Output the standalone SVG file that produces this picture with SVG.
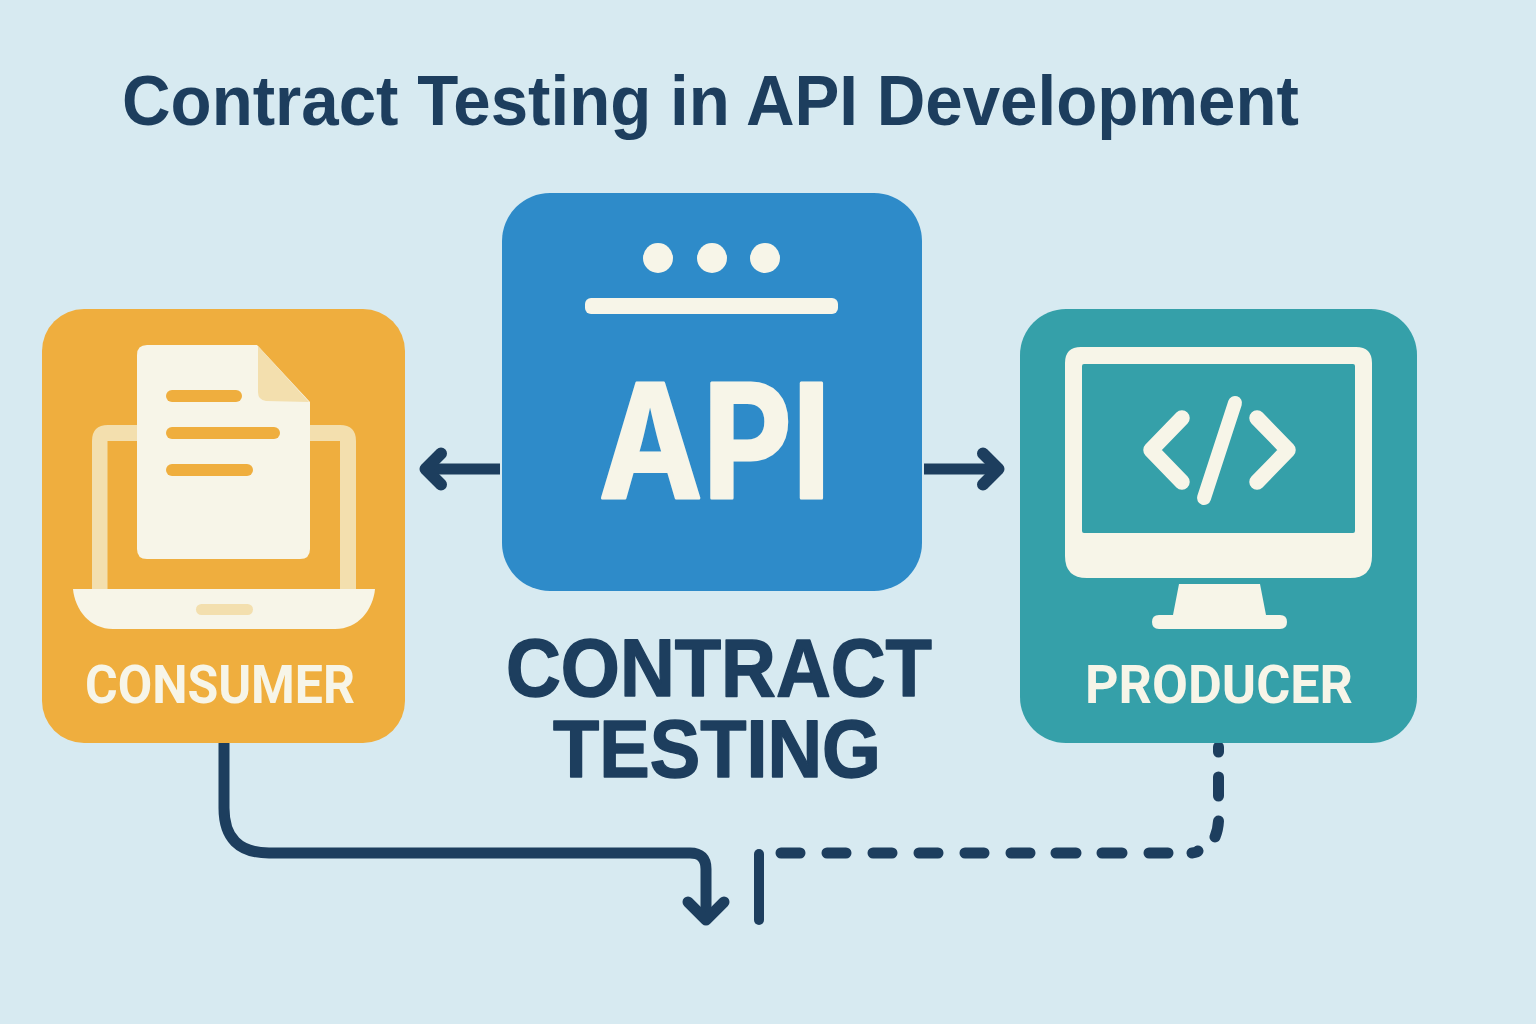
<svg xmlns="http://www.w3.org/2000/svg" width="1536" height="1024" viewBox="0 0 1536 1024">
<style>
.t{font-family:Roboto,"Liberation Sans",sans-serif;font-weight:700}
.h{font-family:"Liberation Sans",Arial,sans-serif;font-weight:700}
.navy{fill:#1d3e5e}
.cream{fill:#f7f5e8}
.big{stroke:#1d3e5e;stroke-width:1.500;stroke-linejoin:round}
.conn{fill:none;stroke:#1d3e5e;stroke-width:11;stroke-linecap:round;stroke-linejoin:round}
.code{fill:none;stroke:#f7f5e8;stroke-width:15.500;stroke-linecap:round;stroke-linejoin:round}
</style>
<rect width="1536" height="1024" fill="#d7eaf1"/>
<text id="title" class="h navy" x="122" y="125" font-size="71" textLength="1177" lengthAdjust="spacingAndGlyphs">Contract Testing in API Development</text>
<g id="connectors">
<path class="conn" d="M224 743V808Q224 853 269 853H690Q706 853 706 869V918"/>
<path class="conn" d="M688 902L706 920L724 902"/>
<path class="conn" d="M759 854V920" style="stroke-width:10"/>
<path class="conn" d="M781 853H800M827 853H846M873 853H892M919 853H938M965 853H984M1011 853H1030M1056 853H1076M1102 853H1122M1149 853H1168M1192 853Q1197 852.500 1198 851M1218.500 747V752M1218.500 777V796M1218.500 821Q1218 830 1215 837"/>
<path class="conn" d="M500 469H428" style="stroke-linecap:butt"/>
<path class="conn" d="M441 453.500L425.500 469L441 484.500" style="stroke-width:12"/>
<path class="conn" d="M924 469H996" style="stroke-linecap:butt"/>
<path class="conn" d="M983 453.500L998.500 469L983 484.500" style="stroke-width:12"/>
</g>
<g id="consumer">
<rect x="42" y="309" width="363" height="434" rx="42" fill="#efae3e"/>
<path d="M92 589V441Q92 425 108 425H340Q356 425 356 441V589H340V441H107.500V589Z" fill="#f3dfae"/>
<path d="M147 345H257L310 402V549Q310 559 300 559H147Q137 559 137 549V355Q137 345 147 345Z" class="cream"/>
<path d="M258 346L309 402L266 401Q258 400 258 392Z" fill="#f3dfae"/>
<rect x="166" y="390" width="76" height="12" rx="6" fill="#efae3e"/>
<rect x="166" y="427" width="114" height="12" rx="6" fill="#efae3e"/>
<rect x="166" y="464" width="87" height="12" rx="6" fill="#efae3e"/>
<path d="M73 589H375C373 610 358 629 335 629H113C90 629 75 610 73 589Z" class="cream"/>
<rect x="196" y="604" width="57" height="11" rx="5.500" fill="#f3dfae"/>
<text class="t cream" x="85" y="703" font-size="53" textLength="270" lengthAdjust="spacingAndGlyphs">CONSUMER</text>
</g>
<g id="api">
<rect x="502" y="193" width="420" height="398" rx="48" fill="#2e8bc9"/>
<circle cx="658" cy="258" r="15" class="cream"/>
<circle cx="712" cy="258" r="15" class="cream"/>
<circle cx="765" cy="258" r="15" class="cream"/>
<rect x="585" y="298" width="253" height="16" rx="6" class="cream"/>
<text class="cream" x="599" y="497.500" font-size="158" font-family="Inter,'Liberation Sans',sans-serif" font-weight="700" textLength="232" lengthAdjust="spacingAndGlyphs" stroke="#f7f5e8" stroke-width="3" stroke-linejoin="round">API</text>
</g>
<g id="producer">
<rect x="1020" y="309" width="397" height="434" rx="46" fill="#35a0a9"/>
<path fill-rule="evenodd" d="M1081 347H1356Q1372 347 1372 363V556Q1372 578 1350 578H1087Q1065 578 1065 556V363Q1065 347 1081 347ZM1084 364Q1082 364 1082 366V531Q1082 533 1084 533H1353Q1355 533 1355 531V366Q1355 364 1353 364Z" class="cream"/>
<path d="M1179 584H1260L1266 615H1280Q1287 615 1287 622T1280 629H1159Q1152 629 1152 622T1159 615H1173Z" class="cream"/>
<path class="code" d="M1182 418L1151 450L1182 482M1257 418L1288 450L1257 482"/>
<path class="code" d="M1235 403L1204 498" style="stroke-width:14"/>
<text class="t cream" x="1085" y="703" font-size="53" textLength="268" lengthAdjust="spacingAndGlyphs">PRODUCER</text>
</g>
<g id="label">
<text class="h navy big" x="506" y="695.500" font-size="82" textLength="426" lengthAdjust="spacingAndGlyphs">CONTRACT</text>
<text class="h navy big" x="553" y="776.500" font-size="82" textLength="328" lengthAdjust="spacingAndGlyphs">TESTING</text>
</g>
</svg>
